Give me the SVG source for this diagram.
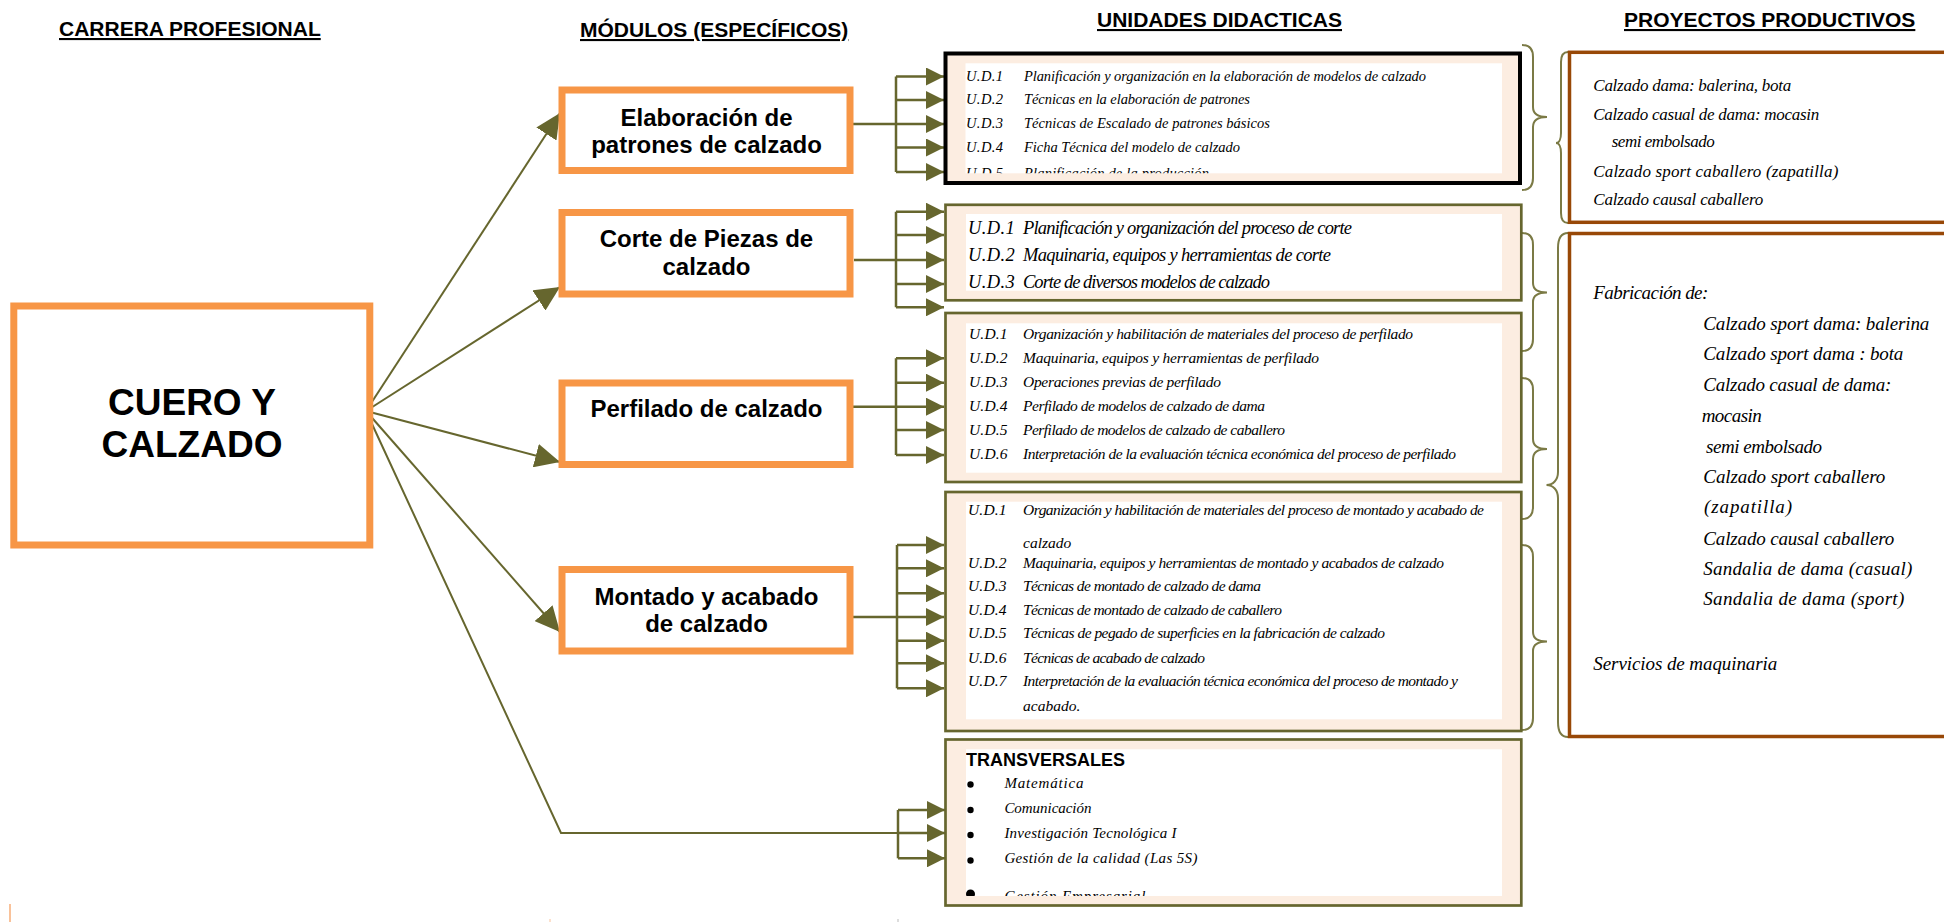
<svg xmlns="http://www.w3.org/2000/svg" width="1944" height="922" viewBox="0 0 1944 922">
<style>
.hdr{font-family:"Liberation Sans",Arial,sans-serif;font-weight:bold;font-size:21px;text-decoration:underline;fill:#000}
.mod{fill:#fff;stroke:#F79646;stroke-width:7}
.modt{font-family:"Liberation Sans",Arial,sans-serif;font-weight:bold;font-size:24px;text-anchor:middle;fill:#000}
.ud{fill:#FCEDE1;stroke:#66662E;stroke-width:2.7}
.inner{fill:#fff}
.s{font-family:"Liberation Serif","DejaVu Serif",serif;font-style:italic;fill:#000;white-space:pre}
.cn{stroke:#66662E;stroke-width:2;fill:none}
.br{stroke:#66662E;stroke-width:2.5;fill:none}
.brace{stroke:#7B7A45;stroke-width:2;fill:none}
.pp{fill:#fff;stroke:#984807;stroke-width:3.5}
.f145{font-size:14.5px}.f185{font-size:18.5px}.f155{font-size:15.5px}.f15{font-size:15px}.f17{font-size:17px}.f19{font-size:19px}
</style>
<defs>
<marker id="ah" markerUnits="userSpaceOnUse" markerWidth="25" markerHeight="24" viewBox="0 0 25 24" refX="25" refY="12" orient="auto"><path d="M0,0 L25,12 L0,24 z" fill="#66662E"/></marker>
<marker id="sa" markerUnits="userSpaceOnUse" markerWidth="18" markerHeight="18" viewBox="0 0 18 18" refX="18" refY="9" orient="auto"><path d="M0,0 L18,9 L0,18 z" fill="#66662E"/></marker>
<clipPath id="c1"><rect x="965.5" y="63.3" width="536.5" height="110"/></clipPath>
<clipPath id="c5"><rect x="966" y="749.3" width="536" height="146.7"/></clipPath>
</defs>
<rect width="1944" height="922" fill="#fff"/>

<g id="headers">
<text class="hdr" x="59" y="36">CARRERA PROFESIONAL</text>
<text class="hdr" x="580" y="37">MÓDULOS (ESPECÍFICOS)</text>
<text class="hdr" x="1097" y="27">UNIDADES DIDACTICAS</text>
<text class="hdr" x="1624" y="27">PROYECTOS PRODUCTIVOS</text>
</g>

<g id="connectors">
<line class="cn" x1="366" y1="411" x2="560" y2="113" marker-end="url(#ah)"/>
<line class="cn" x1="366" y1="411" x2="560" y2="287" marker-end="url(#ah)"/>
<line class="cn" x1="366" y1="411" x2="560" y2="462" marker-end="url(#ah)"/>
<line class="cn" x1="366" y1="411" x2="560" y2="632" marker-end="url(#ah)"/>
<polyline class="cn" points="366,411 561,833 898,833"/>
<path class="br" d="M853,124 H896 M896,76.5 V172"/>
<line class="br" x1="896" y1="76.5" x2="944" y2="76.5" marker-end="url(#sa)"/>
<line class="br" x1="896" y1="100" x2="944" y2="100" marker-end="url(#sa)"/>
<line class="br" x1="896" y1="124" x2="944" y2="124" marker-end="url(#sa)"/>
<line class="br" x1="896" y1="147.5" x2="944" y2="147.5" marker-end="url(#sa)"/>
<line class="br" x1="896" y1="172" x2="944" y2="172" marker-end="url(#sa)"/>
<path class="br" d="M854,260 H896 M896,211.7 V307.3"/>
<line class="br" x1="896" y1="211.7" x2="944" y2="211.7" marker-end="url(#sa)"/>
<line class="br" x1="896" y1="235" x2="944" y2="235" marker-end="url(#sa)"/>
<line class="br" x1="896" y1="260" x2="944" y2="260" marker-end="url(#sa)"/>
<line class="br" x1="896" y1="284" x2="944" y2="284" marker-end="url(#sa)"/>
<line class="br" x1="896" y1="307.3" x2="944" y2="307.3" marker-end="url(#sa)"/>
<path class="br" d="M853,406.7 H896 M896,358.3 V455"/>
<line class="br" x1="896" y1="358.3" x2="944" y2="358.3" marker-end="url(#sa)"/>
<line class="br" x1="896" y1="382.7" x2="944" y2="382.7" marker-end="url(#sa)"/>
<line class="br" x1="896" y1="406.7" x2="944" y2="406.7" marker-end="url(#sa)"/>
<line class="br" x1="896" y1="430" x2="944" y2="430" marker-end="url(#sa)"/>
<line class="br" x1="896" y1="455" x2="944" y2="455" marker-end="url(#sa)"/>
<path class="br" d="M853,617 H897 M897,545 V688.3"/>
<line class="br" x1="897" y1="545" x2="944" y2="545" marker-end="url(#sa)"/>
<line class="br" x1="897" y1="568.3" x2="944" y2="568.3" marker-end="url(#sa)"/>
<line class="br" x1="897" y1="593.3" x2="944" y2="593.3" marker-end="url(#sa)"/>
<line class="br" x1="897" y1="617" x2="944" y2="617" marker-end="url(#sa)"/>
<line class="br" x1="897" y1="640.7" x2="944" y2="640.7" marker-end="url(#sa)"/>
<line class="br" x1="897" y1="663.3" x2="944" y2="663.3" marker-end="url(#sa)"/>
<line class="br" x1="897" y1="688.3" x2="944" y2="688.3" marker-end="url(#sa)"/>
<path class="br" d="M898,810 V858.3"/>
<line class="br" x1="898" y1="810" x2="945" y2="810" marker-end="url(#sa)"/>
<line class="br" x1="898" y1="833" x2="945" y2="833" marker-end="url(#sa)"/>
<line class="br" x1="898" y1="858.3" x2="945" y2="858.3" marker-end="url(#sa)"/>
<path class="brace" d="M1522,45 C1530,45 1533,49 1533,57 L1533,107 C1533,114 1538,117 1547,117 C1538,117 1533,120 1533,127 L1533,178 C1533,186 1530,190 1522,190"/>
<path class="brace" d="M1568,52 C1563,52 1561,55 1561,62 L1561,133 C1561,139 1559,143 1556,143 C1559,143 1561,147 1561,153 L1561,213 C1561,220 1563,223 1568,223"/>
<path class="brace" d="M1522,233 C1530,233 1533,237 1533,245 L1533,283 C1533,290 1538,292.5 1547,292.5 C1538,292.5 1533,295 1533,302 L1533,339 C1533,347 1530,351 1522,351"/>
<path class="brace" d="M1522,378 C1530,378 1533,382 1533,390 L1533,439 C1533,446 1538,449 1547,449 C1538,449 1533,452 1533,459 L1533,507 C1533,515 1530,519 1522,519"/>
<path class="brace" d="M1522,545 C1530,545 1533,549 1533,557 L1533,632 C1533,639 1538,641.5 1547,641.5 C1538,641.5 1533,644 1533,651 L1533,718 C1533,726 1530,730 1522,730"/>
<path class="brace" d="M1568,233 C1561,233 1558,238 1558,248 L1558,472 C1558,480 1553,485 1546.5,485 C1553,485 1558,490 1558,498 L1558,722 C1558,732 1561,737 1568,737"/>
</g>

<g id="n-cuero">
<rect class="mod" x="13.8" y="306" width="356" height="239"/>
<text class="modt" x="192" y="415" style="font-size:37px">CUERO Y</text>
<text class="modt" x="192" y="457" style="font-size:37px">CALZADO</text>
</g>

<g id="n-elaboracion">
<rect class="mod" x="562" y="90" width="288" height="80.5"/>
<text class="modt" x="706.5" y="126">Elaboración de</text>
<text class="modt" x="706.5" y="153">patrones de calzado</text>
</g>

<g id="n-corte">
<rect class="mod" x="562" y="212.5" width="288" height="81.5"/>
<text class="modt" x="706.5" y="247.3">Corte de Piezas de</text>
<text class="modt" x="706.5" y="275">calzado</text>
</g>

<g id="n-perfilado">
<rect class="mod" x="562" y="383" width="288" height="81.5"/>
<text class="modt" x="706.5" y="416.7">Perfilado de calzado</text>
</g>

<g id="n-montado">
<rect class="mod" x="562" y="569.5" width="288" height="81.5"/>
<text class="modt" x="706.5" y="605">Montado y acabado</text>
<text class="modt" x="706.5" y="632.3">de calzado</text>
</g>

<g id="ud-elaboracion">
<rect x="945.5" y="53.5" width="574.5" height="129.5" fill="#FCEDE1" stroke="#000" stroke-width="4"/>
<rect class="inner" x="965.5" y="63.3" width="536.5" height="110"/>
<g clip-path="url(#c1)" class="s f145">
<text x="966" y="81" textLength="37">U.D.1</text><text x="1024" y="81" textLength="402">Planificación y organización en la elaboración de modelos de calzado</text>
<text x="966" y="103.5" textLength="37">U.D.2</text><text x="1024" y="103.5" textLength="226">Técnicas  en la elaboración de patrones</text>
<text x="966" y="127.5" textLength="37">U.D.3</text><text x="1024" y="127.5" textLength="246">Técnicas de Escalado de patrones básicos</text>
<text x="966" y="151.5" textLength="37">U.D.4</text><text x="1024" y="151.5" textLength="216">Ficha Técnica del modelo de calzado</text>
<text x="966" y="178" textLength="37">U.D.5</text><text x="1024" y="178" textLength="185">Planificación de la producción</text>
</g>
</g>

<g id="ud-corte">
<rect class="ud" x="945.5" y="204.8" width="575.8" height="95.5"/>
<rect class="inner" x="966" y="214" width="536" height="76.7"/>
<g class="s f185">
<text x="968" y="234" textLength="46.7">U.D.1</text><text x="1023" y="234" textLength="329">Planificación y organización del proceso de corte</text>
<text x="968" y="261" textLength="46.7">U.D.2</text><text x="1023" y="261" textLength="308">Maquinaria, equipos y herramientas de corte</text>
<text x="968" y="288" textLength="46.7">U.D.3</text><text x="1023" y="288" textLength="247">Corte de diversos modelos de calzado</text>
</g>
</g>

<g id="ud-perfilado">
<rect class="ud" x="945.5" y="313" width="575.8" height="169"/>
<rect class="inner" x="966" y="323.3" width="536" height="149.4"/>
<g class="s f155">
<text x="969" y="339" textLength="38.5">U.D.1</text><text x="1023" y="339" textLength="390">Organización y habilitación de materiales del proceso de perfilado</text>
<text x="969" y="363" textLength="38.5">U.D.2</text><text x="1023" y="363" textLength="296">Maquinaria, equipos y herramientas de perfilado</text>
<text x="969" y="387" textLength="38.5">U.D.3</text><text x="1023" y="387" textLength="198">Operaciones previas de perfilado</text>
<text x="969" y="411" textLength="38.5">U.D.4</text><text x="1023" y="411" textLength="242">Perfilado de modelos de calzado  de dama</text>
<text x="969" y="435" textLength="38.5">U.D.5</text><text x="1023" y="435" textLength="262">Perfilado de modelos de calzado  de caballero</text>
<text x="969" y="459" textLength="38.5">U.D.6</text><text x="1023" y="459" textLength="433">Interpretación de la evaluación técnica económica del proceso de perfilado</text>
</g>
</g>

<g id="ud-montado">
<rect class="ud" x="945.5" y="492" width="575.8" height="239"/>
<rect class="inner" x="966" y="501.7" width="536" height="217.6"/>
<g class="s f155">
<text x="968" y="515" textLength="38.5">U.D.1</text><text x="1023" y="515" textLength="461">Organización y habilitación de materiales del proceso de montado y acabado de</text>
<text x="1023" y="548">calzado</text>
<text x="968" y="567.5" textLength="38.5">U.D.2</text><text x="1023" y="567.5" textLength="421">Maquinaria, equipos y herramientas de montado y acabados de calzado</text>
<text x="968" y="591" textLength="38.5">U.D.3</text><text x="1023" y="591" textLength="238">Técnicas de montado  de calzado de dama</text>
<text x="968" y="615" textLength="38.5">U.D.4</text><text x="1023" y="615" textLength="259">Técnicas de montado  de calzado de caballero</text>
<text x="968" y="638" textLength="38.5">U.D.5</text><text x="1023" y="638" textLength="362">Técnicas de pegado de superficies en la fabricación de calzado</text>
<text x="968" y="662.5" textLength="38.5">U.D.6</text><text x="1023" y="662.5" textLength="182">Técnicas de acabado de calzado</text>
<text x="968" y="686" textLength="38.5">U.D.7</text><text x="1023" y="686" textLength="435">Interpretación de la evaluación técnica económica del proceso de montado y</text>
<text x="1023" y="711">acabado.</text>
</g>
</g>

<g id="ud-transversales">
<rect class="ud" x="945.5" y="739.5" width="575.8" height="166"/>
<rect class="inner" x="966" y="749.3" width="536" height="146.7"/>
<g clip-path="url(#c5)">
<text x="966" y="765.7" style="font-family:'Liberation Sans',Arial,sans-serif;font-weight:bold;font-size:18px">TRANSVERSALES</text>
<circle cx="970.5" cy="784.5" r="3.2"/>
<circle cx="970.5" cy="810" r="3.2"/>
<circle cx="970.5" cy="835" r="3.2"/>
<circle cx="970.5" cy="860.5" r="3.2"/>
<circle cx="970.5" cy="894" r="4.5"/>
<g class="s f15">
<text x="1004.4" y="788" textLength="79">Matemática</text>
<text x="1004.4" y="813" textLength="87">Comunicación</text>
<text x="1004.4" y="838" textLength="172">Investigación Tecnológica I</text>
<text x="1004.4" y="863" textLength="193">Gestión de la calidad (Las 5S)</text>
<text x="1004.4" y="901" textLength="141">Gestión Empresarial</text>
</g>
</g>
</g>

<g id="pp-1">
<rect class="pp" x="1569.5" y="52.3" width="400" height="170"/>
<g class="s f17">
<text x="1593.3" y="90.5" textLength="198">Calzado dama: balerina, bota</text>
<text x="1593.3" y="120" textLength="226">Calzado casual de dama: mocasin</text>
<text x="1611.7" y="146.5" textLength="103">semi  embolsado</text>
<text x="1593.3" y="176.5" textLength="245">Calzado sport caballero (zapatilla)</text>
<text x="1593.3" y="204.5" textLength="170">Calzado causal caballero</text>
</g>
</g>

<g id="pp-2">
<rect class="pp" x="1569.5" y="233.5" width="400" height="503"/>
<g class="s f19">
<text x="1593.3" y="299.3" textLength="115">Fabricación de:</text>
<text x="1703.3" y="330" textLength="226">Calzado sport dama: balerina</text>
<text x="1703.3" y="360" textLength="200">Calzado sport dama : bota</text>
<text x="1703.3" y="390.7" textLength="188">Calzado casual de dama:</text>
<text x="1701.7" y="421.7" textLength="60">mocasin</text>
<text x="1706" y="452.7" textLength="116">semi  embolsado</text>
<text x="1703.3" y="483.3" textLength="182">Calzado sport caballero</text>
<text x="1704" y="513.3" textLength="88">(zapatilla)</text>
<text x="1703.3" y="545" textLength="191">Calzado causal caballero</text>
<text x="1703.3" y="575" textLength="209">Sandalia de dama (casual)</text>
<text x="1703.3" y="605" textLength="201">Sandalia de dama (sport)</text>
<text x="1593.3" y="670" textLength="184">Servicios de maquinaria</text>
</g>
</g>

<g id="page-marks">
<line x1="10" y1="904" x2="10" y2="922" stroke="#F9C29A" stroke-width="2"/>
<line x1="550" y1="919" x2="550" y2="922" stroke="#F9C29A" stroke-width="1"/>
<line x1="898" y1="919" x2="898" y2="922" stroke="#BBBBBB" stroke-width="1"/>
</g>
</svg>
